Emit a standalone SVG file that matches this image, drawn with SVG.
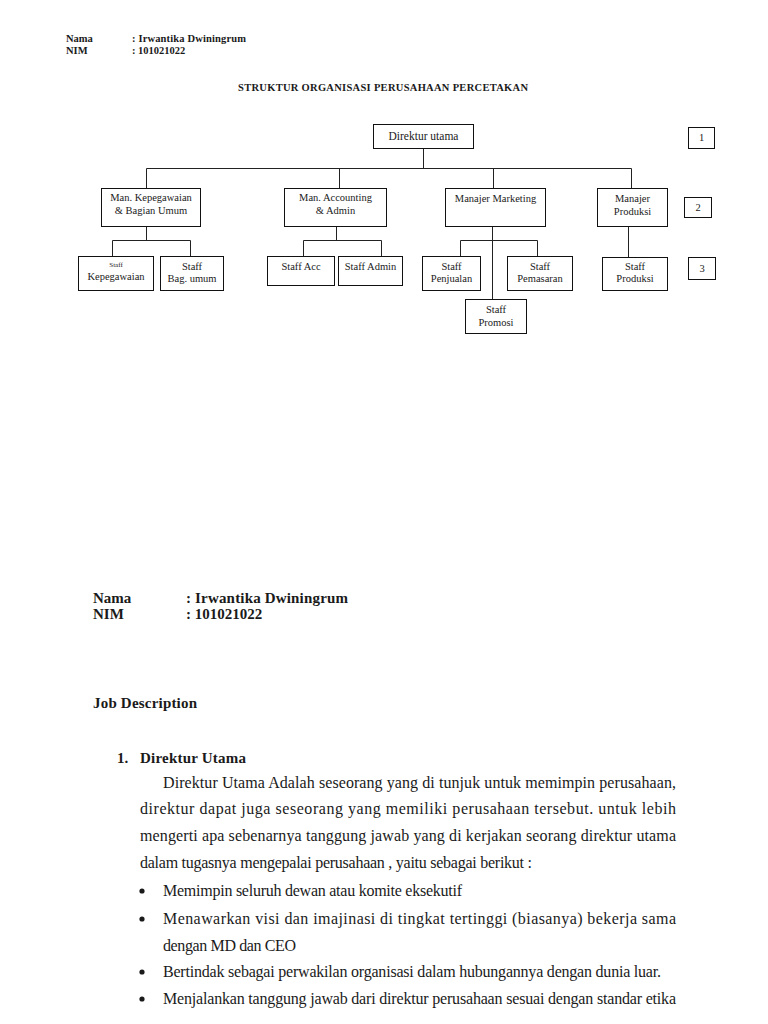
<svg xmlns="http://www.w3.org/2000/svg" width="768" height="1024" viewBox="0 0 768 1024">
<style>
text{font-family:"Liberation Serif","Times New Roman",serif;fill:#1a1a1a}
.b{font-weight:bold}
.h1{font-size:10.5px;font-weight:bold}
.n{font-size:10.5px;text-anchor:middle}
.sm{font-size:7px;text-anchor:middle}
.box{fill:#fff;stroke:#111;stroke-width:1}
.ln{fill:none;stroke:#222;stroke-width:1}
.body{font-size:16px}
.big{font-size:15px;font-weight:bold}
</style>
<rect width="768" height="1024" fill="#fff"/>
<g id="header">
<text class="h1" x="66" y="42">Nama</text>
<text class="h1" x="132" y="42" textLength="114">: Irwantika Dwiningrum</text>
<text class="h1" x="66" y="54">NIM</text>
<text class="h1" x="132" y="54">: 101021022</text>
<text class="h1" x="238" y="91" textLength="290">STRUKTUR ORGANISASI PERUSAHAAN PERCETAKAN</text>
</g>
<g id="connectors">
<path class="ln" d="M423.5 149V168.5M146.5 168.5H631.5M146.5 168.5V188.5M339.5 168.5V188.5M493.5 168.5V188.5M631.5 168.5V188.5"/>
<path class="ln" d="M146.5 226.5V240.5M112.5 256.5V240.5H190.5V256.5"/>
<path class="ln" d="M336.5 226.5V240.5M303.5 256.5V240.5H381.5V256.5"/>
<path class="ln" d="M492.5 226.5V299.5M460.5 256.5V240.5H537.5V256.5"/>
<path class="ln" d="M628.5 226.5V257.5"/>
</g>
<g id="direktur"><rect class="box" x="373.5" y="124.5" width="100" height="24"/><text class="n" x="423.5" y="140" style="font-size:11.5px">Direktur utama</text></g>
<g id="level1"><rect class="box" x="688.5" y="127.5" width="26" height="21"/><text class="n" x="701.5" y="141">1</text></g>
<g id="man-kepegawaian"><rect class="box" x="101.5" y="188.5" width="99" height="38"/><text class="n" x="151" y="201">Man. Kepegawaian</text><text class="n" x="151" y="214">&amp; Bagian Umum</text></g>
<g id="man-accounting"><rect class="box" x="284.5" y="188.5" width="102" height="38"/><text class="n" x="335.5" y="201">Man. Accounting</text><text class="n" x="335.5" y="214">&amp; Admin</text></g>
<g id="man-marketing"><rect class="box" x="445.5" y="188.5" width="100" height="38"/><text class="n" x="495.5" y="202">Manajer Marketing</text></g>
<g id="man-produksi"><rect class="box" x="597.5" y="188.5" width="70" height="38"/><text class="n" x="632.5" y="202">Manajer</text><text class="n" x="632.5" y="215">Produksi</text></g>
<g id="level2"><rect class="box" x="684.5" y="197.5" width="27" height="20"/><text class="n" x="698" y="211">2</text></g>
<g id="staff-kepegawaian"><rect class="box" x="78.5" y="256.5" width="75" height="34"/><text class="sm" x="116" y="267">Staff</text><text class="n" x="116" y="280">Kepegawaian</text></g>
<g id="staff-bag-umum"><rect class="box" x="160.5" y="256.5" width="63" height="34"/><text class="n" x="192" y="270">Staff</text><text class="n" x="192" y="282">Bag. umum</text></g>
<g id="staff-acc"><rect class="box" x="267.5" y="256.5" width="67" height="29"/><text class="n" x="301" y="270">Staff Acc</text></g>
<g id="staff-admin"><rect class="box" x="338.5" y="256.5" width="64" height="29"/><text class="n" x="370.5" y="270">Staff Admin</text></g>
<g id="staff-penjualan"><rect class="box" x="422.5" y="256.5" width="58" height="34"/><text class="n" x="451.5" y="270">Staff</text><text class="n" x="451.5" y="282">Penjualan</text></g>
<g id="staff-pemasaran"><rect class="box" x="507.5" y="256.5" width="65" height="34"/><text class="n" x="540" y="270">Staff</text><text class="n" x="540" y="282">Pemasaran</text></g>
<g id="staff-promosi"><rect class="box" x="465.5" y="299.5" width="61" height="34"/><text class="n" x="496" y="313">Staff</text><text class="n" x="496" y="326">Promosi</text></g>
<g id="staff-produksi"><rect class="box" x="602.5" y="257.5" width="65" height="33"/><text class="n" x="635" y="270">Staff</text><text class="n" x="635" y="282">Produksi</text></g>
<g id="level3"><rect class="box" x="688.5" y="257.5" width="27" height="22"/><text class="n" x="702" y="272">3</text></g>
<g id="page2">
<text class="big" x="93" y="603">Nama</text>
<text class="big" x="186" y="603" textLength="162">: Irwantika Dwiningrum</text>
<text class="big" x="93" y="619">NIM</text>
<text class="big" x="186" y="619">: 101021022</text>
<text class="big" x="93" y="708" textLength="104">Job Description</text>
<text class="big" x="117" y="763">1.</text>
<text class="big" x="140" y="763" textLength="106">Direktur Utama</text>
<text class="body" x="163" y="788" textLength="513" lengthAdjust="spacing">Direktur Utama  Adalah seseorang yang di tunjuk untuk memimpin perusahaan,</text>
<text class="body" x="140" y="814" textLength="536" lengthAdjust="spacing">direktur dapat juga seseorang yang memiliki perusahaan tersebut. untuk lebih</text>
<text class="body" x="140" y="841" textLength="536" lengthAdjust="spacing">mengerti apa sebenarnya tanggung jawab yang di kerjakan seorang direktur utama</text>
<text class="body" x="140" y="868" textLength="392" lengthAdjust="spacing">dalam tugasnya mengepalai perusahaan , yaitu sebagai berikut :</text>
<circle cx="142" cy="891" r="2.6" fill="#1a1a1a"/>
<text class="body" x="163" y="896" textLength="299" lengthAdjust="spacing">Memimpin seluruh dewan atau komite eksekutif</text>
<circle cx="142" cy="919" r="2.6" fill="#1a1a1a"/>
<text class="body" x="163" y="924" textLength="513" lengthAdjust="spacing">Menawarkan visi dan imajinasi di tingkat tertinggi (biasanya) bekerja sama</text>
<text class="body" x="163" y="951" textLength="133" lengthAdjust="spacing">dengan MD dan CEO</text>
<circle cx="142" cy="972" r="2.6" fill="#1a1a1a"/>
<text class="body" x="163" y="977" textLength="498" lengthAdjust="spacing">Bertindak sebagai perwakilan organisasi dalam hubungannya dengan dunia luar.</text>
<circle cx="142" cy="999" r="2.6" fill="#1a1a1a"/>
<text class="body" x="163" y="1004" textLength="513" lengthAdjust="spacing">Menjalankan tanggung jawab dari direktur perusahaan sesuai dengan standar etika</text>
</g>
</svg>
